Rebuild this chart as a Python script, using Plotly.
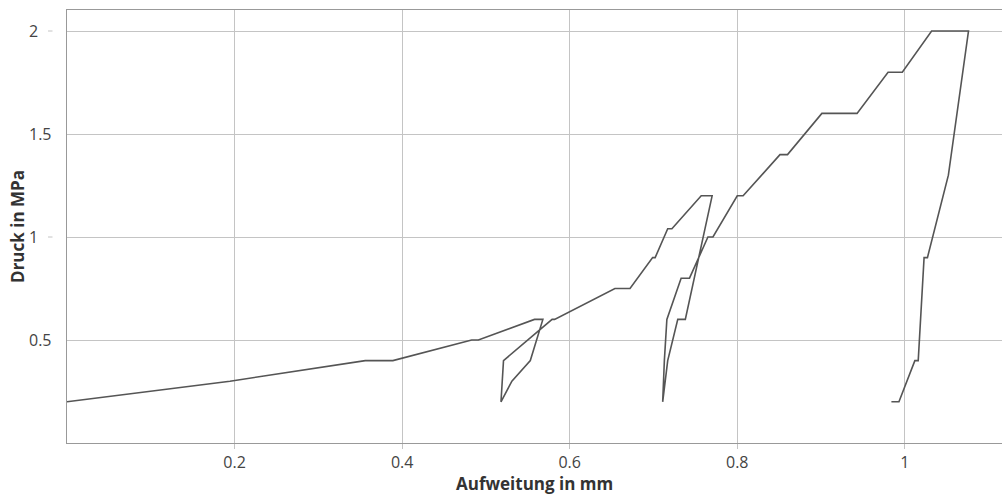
import plotly.graph_objects as go

# Aufweitung (mm) and Druck (MPa) along the measured path
aufweitung_mm = [
    0.000, 0.1945, 0.356, 0.389, 0.483, 0.491, 0.558, 0.568,
    0.553, 0.531, 0.518, 0.521, 0.579, 0.582,
    0.654, 0.672, 0.699, 0.702, 0.717, 0.722, 0.757, 0.770,
    0.738, 0.729, 0.717, 0.711, 0.713, 0.716, 0.733, 0.743,
    0.765, 0.771, 0.800, 0.807, 0.851, 0.860, 0.901, 0.943,
    0.980, 0.997, 1.032, 1.076,
    1.052, 1.027, 1.023, 1.016, 1.012, 0.993, 0.984,
]
druck_mpa = [
    0.20, 0.30, 0.40, 0.40, 0.50, 0.50, 0.60, 0.60,
    0.40, 0.30, 0.20, 0.40, 0.60, 0.60,
    0.75, 0.75, 0.90, 0.90, 1.04, 1.04, 1.20, 1.20,
    0.60, 0.60, 0.40, 0.20, 0.40, 0.60, 0.80, 0.80,
    1.00, 1.00, 1.20, 1.20, 1.40, 1.40, 1.60, 1.60,
    1.80, 1.80, 2.00, 2.00,
    1.30, 0.90, 0.90, 0.40, 0.40, 0.20, 0.20,
]

x_tickvals = [0.2, 0.4, 0.6, 0.8, 1.0]
x_ticktext = ["0.2", "0.4", "0.6", "0.8", "1"]
y_tickvals = [0.5, 1.0, 1.5, 2.0]
y_ticktext = ["0.5", "1", "1.5", "2"]

x_title = "Aufweitung in mm"
y_title = "Druck in MPa"

FONT = "Open Sans, Segoe UI, DejaVu Sans, sans-serif"
LABEL_COLOR = "#444444"

fig = go.Figure()
fig.add_trace(go.Scatter(
    x=aufweitung_mm, y=druck_mpa, mode="lines",
    line=dict(color="#555555", width=1.6),
    hoverinfo="x+y", showlegend=False,
))

fig.update_layout(
    width=1003, height=496,
    margin=dict(l=67, r=1, t=10, b=53),
    paper_bgcolor="white", plot_bgcolor="white",
    font=dict(family=FONT, size=16, color=LABEL_COLOR),
    xaxis=dict(
        range=[0, 1.116],
        tickvals=x_tickvals, ticktext=x_ticktext,
        showgrid=True, gridcolor="#c4c4c4", gridwidth=1,
        zeroline=False,
        showline=True, linecolor="#999999", linewidth=1, mirror=True,
        ticks="outside", ticklen=5, tickcolor="#c4c4c4",
        ticklabelstandoff=0,
        tickfont=dict(family=FONT, size=16, color=LABEL_COLOR),
    ),
    yaxis=dict(
        range=[0, 2.102],
        tickvals=y_tickvals, ticktext=y_ticktext,
        showticklabels=False,
        showgrid=True, gridcolor="#c4c4c4", gridwidth=1,
        zeroline=False,
        showline=True, linecolor="#999999", linewidth=1,
        ticks="",
    ),
)

# left-aligned y tick labels (as in the reference)
for v, t in zip(y_tickvals, y_ticktext):
    fig.add_annotation(x=-0.043, xref="paper", y=v, yref="y",
                       text=t, showarrow=False, xanchor="left", yanchor="middle",
                       font=dict(family=FONT, size=16, color=LABEL_COLOR))
    if len(t) == 1:
        fig.add_shape(type="line", xref="paper", yref="y",
                      x0=-0.0203, x1=-0.0155, y0=v, y1=v,
                      line=dict(color="#c4c4c4", width=1))

# x axis title (placed just under the tick labels)
fig.add_annotation(x=0.5, xref="paper", y=-0.093, yref="paper",
                   text=x_title, showarrow=False,
                   xanchor="center", yanchor="middle",
                   font=dict(family=FONT, size=17, color="#333333", weight="bold"))

# y axis title
fig.add_annotation(x=-0.053, xref="paper", y=0.5, yref="paper",
                   text=y_title, textangle=-90, showarrow=False,
                   xanchor="center", yanchor="middle",
                   font=dict(family=FONT, size=17, color="#333333", weight="bold"))

fig.write_html("out.html",
               config={"displayModeBar": False},
               post_script="document.body.style.margin='0';document.body.style.overflow='hidden';")
